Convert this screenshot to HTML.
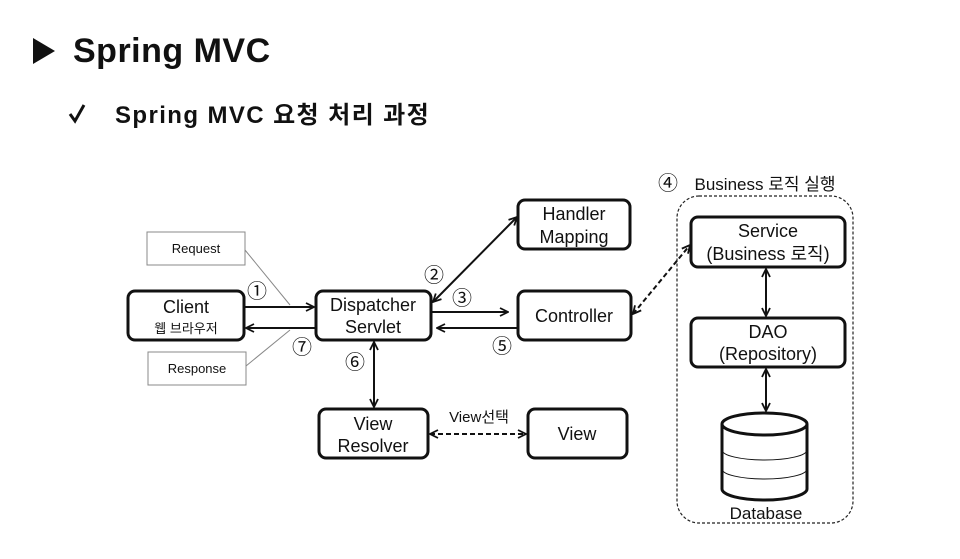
<!DOCTYPE html>
<html><head><meta charset="utf-8"><style>
html,body{margin:0;padding:0;background:#fff;}
svg{display:block;}
text{font-family:"Liberation Sans","Noto Sans CJK KR",sans-serif;fill:#111;}
</style></head><body>
<svg width="960" height="559" viewBox="0 0 960 559" xmlns="http://www.w3.org/2000/svg">
<defs>
<marker id="a" viewBox="0 0 10 10" refX="9" refY="5" markerWidth="10" markerHeight="10" orient="auto-start-reverse" markerUnits="userSpaceOnUse">
<path d="M1,1 L9,5 L1,9" fill="none" stroke="#111" stroke-width="1.8"/></marker>
</defs>
<polygon points="33,38 55,51 33,64" fill="#111"/>
<text x="73" y="62" font-size="34" font-weight="bold" letter-spacing="0.5">Spring MVC</text>
<path d="M70,114 L75,121 L84,105" fill="none" stroke="#111" stroke-width="3"/>
<text x="115" y="123" font-size="24" font-weight="bold" letter-spacing="1.4">Spring MVC 요청 처리 과정</text>

<g fill="#fff" stroke="#111" stroke-width="3">
<rect x="128" y="291" width="116" height="49" rx="7"/>
<rect x="316" y="291" width="115" height="49" rx="7"/>
<rect x="518" y="200" width="112" height="49" rx="7"/>
<rect x="518" y="291" width="113" height="49" rx="7"/>
<rect x="319" y="409" width="109" height="49" rx="7"/>
<rect x="528" y="409" width="99" height="49" rx="7"/>
<rect x="691" y="217" width="154" height="50" rx="7"/>
<rect x="691" y="318" width="154" height="49" rx="7"/>
</g>
<rect x="677" y="196" width="176" height="327" rx="22" fill="none" stroke="#222" stroke-width="1.2" stroke-dasharray="3,2"/>
<g fill="#fff" stroke="#888" stroke-width="1">
<rect x="147" y="232" width="98" height="33"/>
<rect x="148" y="352" width="98" height="33"/>
</g>
<line x1="245" y1="250" x2="290" y2="305" stroke="#888"/>
<line x1="246" y1="366" x2="290" y2="330" stroke="#888"/>

<g stroke="#111" stroke-width="2" fill="none">
<line x1="245" y1="307" x2="314" y2="307" marker-end="url(#a)"/>
<line x1="315" y1="328" x2="246" y2="328" marker-end="url(#a)"/>
<line x1="433" y1="302" x2="517" y2="217" marker-start="url(#a)" marker-end="url(#a)"/>
<line x1="432" y1="312" x2="508" y2="312" marker-end="url(#a)"/>
<line x1="517" y1="328" x2="437" y2="328" marker-end="url(#a)"/>
<line x1="374" y1="342" x2="374" y2="407" marker-start="url(#a)" marker-end="url(#a)"/>
<line x1="430" y1="434" x2="526" y2="434" stroke-dasharray="5,3" marker-start="url(#a)" marker-end="url(#a)"/>
<line x1="633" y1="314" x2="690" y2="245" stroke-dasharray="5,3" marker-start="url(#a)" marker-end="url(#a)"/>
<line x1="766" y1="269" x2="766" y2="316" marker-start="url(#a)" marker-end="url(#a)"/>
<line x1="766" y1="369" x2="766" y2="411" marker-start="url(#a)" marker-end="url(#a)"/>
</g>
<g stroke="#111" fill="#fff">
<path d="M722,424 L722,489 A42.5,11 0 0 0 807,489 L807,424" stroke-width="3"/>
<ellipse cx="764.5" cy="424" rx="42.5" ry="11" stroke-width="3"/>
<path d="M722,450 A42.5,10 0 0 0 807,450" fill="none" stroke-width="1"/>
<path d="M722,469 A42.5,10 0 0 0 807,469" fill="none" stroke-width="1"/>
</g>

<g font-size="18" text-anchor="middle">
<text x="186" y="313">Client</text>
<text x="186" y="333" font-size="13">웹 브라우저</text>
<text x="373" y="311">Dispatcher</text>
<text x="373" y="333">Servlet</text>
<text x="574" y="220">Handler</text>
<text x="574" y="243">Mapping</text>
<text x="574" y="322">Controller</text>
<text x="373" y="430">View</text>
<text x="373" y="452">Resolver</text>
<text x="577" y="440">View</text>
<text x="768" y="237">Service</text>
<text x="768" y="260">(Business 로직)</text>
<text x="768" y="338">DAO</text>
<text x="768" y="360">(Repository)</text>
<text x="766" y="519" font-size="17">Database</text>
<text x="196" y="253" font-size="13">Request</text>
<text x="197" y="373" font-size="13">Response</text>
<text x="479" y="422" font-size="15">View선택</text>
<text x="765" y="190" font-size="17">Business 로직 실행</text>
</g>
<g font-size="20" text-anchor="middle" font-family="Liberation Sans,DejaVu Sans,sans-serif">
<text x="257" y="298">①</text>
<text x="434" y="282">②</text>
<text x="462" y="305">③</text>
<text x="668" y="190">④</text>
<text x="502" y="353">⑤</text>
<text x="355" y="369">⑥</text>
<text x="302" y="354">⑦</text>
</g>
</svg>
</body></html>
